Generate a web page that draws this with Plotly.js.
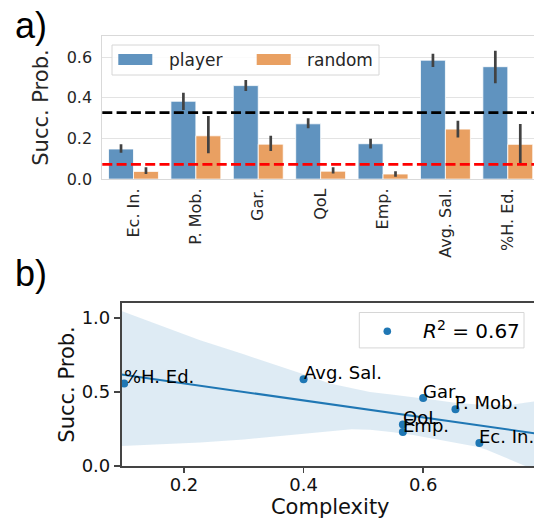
<!DOCTYPE html>
<html><head><meta charset="utf-8">
<script src="https://cdn.plot.ly/plotly-3.0.1.min.js"></script>
<style>html,body{margin:0;padding:0;overflow:hidden;background:#fff;}#chart{width:545px;height:520px;}</style>
</head><body><div id="chart"></div>
<script>
// ---- data ----
const categories = ['Ec. In.', 'P. Mob.', 'Gar.', 'QoL', 'Emp.', 'Avg. Sal.', '%H. Ed.'];
const playerMean = [0.148, 0.383, 0.460, 0.272, 0.174, 0.585, 0.553];
const playerLow  = [0.130, 0.340, 0.433, 0.250, 0.151, 0.552, 0.471];
const playerHigh = [0.171, 0.425, 0.488, 0.299, 0.199, 0.617, 0.632];
const randomMean = [0.038, 0.213, 0.172, 0.039, 0.025, 0.246, 0.171];
const randomLow  = [0.025, 0.127, 0.138, 0.028, 0.011, 0.205, 0.069];
const randomHigh = [0.058, 0.310, 0.213, 0.058, 0.039, 0.287, 0.271];
const baselineValues = [0.327, 0.072];          // black dashed, red dashed
const complexity  = [0.694, 0.654, 0.600, 0.566, 0.566, 0.400, 0.100];
const scatterSucc = [0.156, 0.384, 0.460, 0.281, 0.230, 0.587, 0.558];
const bandX     = [0.0955, 0.16, 0.227, 0.30, 0.355, 0.40, 0.444, 0.48, 0.511, 0.55, 0.583, 0.62, 0.65, 0.69, 0.706, 0.73, 0.751, 0.77, 0.80];
const bandUpper = [1.048, 0.95, 0.851, 0.755, 0.682, 0.62, 0.558, 0.525, 0.50, 0.482, 0.467, 0.447, 0.429, 0.415, 0.411, 0.412, 0.416, 0.428, 0.445];
const bandLower = [0.135, 0.147, 0.159, 0.18, 0.20, 0.218, 0.235, 0.248, 0.245, 0.228, 0.21, 0.185, 0.16, 0.13, 0.11, 0.07, 0.035, 0.0, -0.05];
const r2Value = 0.67;

// ---- geometry helpers (pixel -> paper) ----
const W = 545, H = 520, ML = 100, MR = 6, MT = 36, MB = 54.3;
const px = x => (x - ML) / (W - ML - MR);
const py = y => (H - MB - y) / (H - MT - MB);

const blue = '#6093bf', orange = '#e9a062', errCol = '#424242';
const FONT = 'DejaVu Sans, Verdana, sans-serif';

const diff = (a, b) => a.map((v, i) => v - b[i]);

const player = {
  type: 'bar', name: 'player', x: categories, y: playerMean, xaxis: 'x', yaxis: 'y',
  marker: {color: blue, line: {color: '#ffffff', width: 0.8}},
  error_y: {type: 'data', symmetric: false, array: diff(playerHigh, playerMean), arrayminus: diff(playerMean, playerLow), color: errCol, thickness: 2.7, width: 0},
  showlegend: false, hoverinfo: 'x+y'
};
const random = {
  type: 'bar', name: 'random', x: categories, y: randomMean, xaxis: 'x', yaxis: 'y',
  marker: {color: orange, line: {color: '#ffffff', width: 0.8}},
  error_y: {type: 'data', symmetric: false, array: diff(randomHigh, randomMean), arrayminus: diff(randomMean, randomLow), color: errCol, thickness: 2.7, width: 0},
  showlegend: false, hoverinfo: 'x+y'
};

// regression fit of the scatter points
const n = complexity.length;
const mx = complexity.reduce((a, b) => a + b, 0) / n;
const my = scatterSucc.reduce((a, b) => a + b, 0) / n;
let sxy = 0, sxx = 0;
for (let i = 0; i < n; i++) { sxy += (complexity[i] - mx) * (scatterSucc[i] - my); sxx += (complexity[i] - mx) ** 2; }
const slope = sxy / sxx, intercept = my - slope * mx;

const x2Range = [0.0955, 0.0955 + (539 - 121.5) / 598];
const y2Range = [0, 1.103];

const band = {
  type: 'scatter', mode: 'lines', x: bandX.concat(bandX.slice().reverse()),
  y: bandUpper.concat(bandLower.slice().reverse()), fill: 'toself',
  fillcolor: 'rgba(31,119,180,0.15)', line: {width: 0}, xaxis: 'x2', yaxis: 'y2',
  showlegend: false, hoverinfo: 'skip'
};
const fitX = [x2Range[0], 0.82];
const fit = {
  type: 'scatter', mode: 'lines', x: fitX, y: fitX.map(v => intercept + slope * v),
  line: {color: '#1f77b4', width: 2}, xaxis: 'x2', yaxis: 'y2', showlegend: false, hoverinfo: 'skip'
};
const pts = {
  type: 'scatter', mode: 'markers', name: 'R2', x: complexity, y: scatterSucc,
  marker: {color: '#1f77b4', size: 8}, xaxis: 'x2', yaxis: 'y2', showlegend: false,
  text: categories, hoverinfo: 'text+x+y'
};

const shapes = [];
const baseColors = ['#000000', '#ff0000'];
baselineValues.forEach((v, i) => shapes.push({
  type: 'line', xref: 'x domain', x0: 0, x1: 1, yref: 'y', y0: v, y1: v,
  line: {color: baseColors[i], width: 2.7, dash: '10px,4.3px'}
}));
// legend a)
shapes.push({type: 'rect', xref: 'paper', yref: 'paper', x0: px(112), x1: px(379), y0: py(75), y1: py(45),
  line: {color: '#d6d6d6', width: 1}, fillcolor: 'rgba(255,255,255,0.85)'});
shapes.push({type: 'rect', xref: 'paper', yref: 'paper', x0: px(118.3), x1: px(152.3), y0: py(65), y1: py(54),
  line: {width: 0}, fillcolor: blue});
shapes.push({type: 'rect', xref: 'paper', yref: 'paper', x0: px(256.7), x1: px(290.7), y0: py(65), y1: py(54),
  line: {width: 0}, fillcolor: orange});
// legend b)
shapes.push({type: 'rect', xref: 'paper', yref: 'paper', x0: px(359.3), x1: px(524), y0: py(347.7), y1: py(312.3),
  line: {color: '#d6d6d6', width: 1}, fillcolor: 'rgba(255,255,255,0.85)'});
shapes.push({type: 'circle', xref: 'paper', yref: 'paper', xsizemode: 'pixel', ysizemode: 'pixel',
  xanchor: px(387.3), yanchor: py(331), x0: -3.8, x1: 3.8, y0: -3.8, y1: 3.8,
  line: {width: 0}, fillcolor: '#1f77b4'});

const annotations = [];
annotations.push({xref: 'paper', yref: 'paper', x: px(167.3), y: py(60), xanchor: 'left', yanchor: 'middle',
  text: player.name, showarrow: false, font: {family: FONT, size: 17, color: '#262626'}});
annotations.push({xref: 'paper', yref: 'paper', x: px(305), y: py(60), xanchor: 'left', yanchor: 'middle',
  text: random.name, showarrow: false, font: {family: FONT, size: 17, color: '#262626'}});
annotations.push({xref: 'paper', yref: 'paper', x: px(421), y: py(330), xanchor: 'left', yanchor: 'middle',
  text: '<i>R</i><sup>2</sup> = ' + r2Value.toFixed(2), showarrow: false, font: {family: FONT, size: 20, color: '#000'}});
categories.forEach((c, i) => annotations.push({
  xref: 'x2', yref: 'y2', x: complexity[i], y: scatterSucc[i], xanchor: 'left', yanchor: 'bottom',
  text: c, showarrow: false, borderpad: 0, xshift: -1, yshift: -5,
  font: {family: FONT, size: 18, color: '#000'}
}));
annotations.push({xref: 'paper', yref: 'paper', x: px(13), y: py(3), xanchor: 'left', yanchor: 'top',
  text: 'a)', showarrow: false, font: {family: 'Liberation Sans, Arial, sans-serif', size: 36, color: '#000'}});
annotations.push({xref: 'paper', yref: 'paper', x: px(13), y: py(251), xanchor: 'left', yanchor: 'top',
  text: 'b)', showarrow: false, font: {family: 'Liberation Sans, Arial, sans-serif', size: 36, color: '#000'}});

const layout = {
  width: W, height: H, margin: {l: ML, r: MR, t: MT, b: MB, pad: 0},
  paper_bgcolor: '#fff', plot_bgcolor: 'rgba(0,0,0,0)',
  font: {family: FONT, color: '#262626'},
  barmode: 'group', bargap: 0.2, bargroupgap: 0,
  showlegend: false,
  xaxis: {domain: [px(102.3), 1], anchor: 'y', type: 'category', range: [-0.5, 6.5],
    showgrid: false, showline: true, mirror: true, linecolor: '#d9d9d9', linewidth: 1,
    ticks: '', tickangle: -90, tickfont: {size: 16, color: '#262626'}, ticklabelstandoff: 2, automargin: false, zeroline: false},
  yaxis: {domain: [py(179), 1], anchor: 'x', range: [0, 0.704], tickvals: [0, 0.2, 0.4, 0.6], tickformat: '.1f',
    showgrid: true, gridcolor: '#e3e3e3', gridwidth: 1, showline: true, mirror: true, linecolor: '#d9d9d9',
    ticks: '', tickfont: {size: 16, color: '#262626'}, ticklabelstandoff: 6, zeroline: false, automargin: false,
    title: {text: 'Succ. Prob.', font: {size: 21, color: '#262626'}, standoff: 12}},
  xaxis2: {domain: [px(121.5), 1], anchor: 'y2', range: x2Range, tickvals: [0.2, 0.4, 0.6], tickformat: '.1f',
    showgrid: false, showline: true, mirror: true, linecolor: '#444', linewidth: 1.6, zeroline: false,
    ticks: 'outside', ticklen: 5, tickwidth: 1.4, tickcolor: '#444', tickfont: {size: 18, color: '#111'},
    ticklabelstandoff: -3, automargin: false, title: {text: 'Complexity', font: {size: 21, color: '#111'}, standoff: 4}},
  yaxis2: {domain: [0, py(302.7)], anchor: 'x2', range: y2Range, tickvals: [0, 0.5, 1.0], tickformat: '.1f',
    showgrid: false, showline: true, mirror: true, linecolor: '#444', linewidth: 1.6, zeroline: false,
    ticks: 'outside', ticklen: 6, tickwidth: 1.4, tickcolor: '#444', tickfont: {size: 18, color: '#111'},
    automargin: false, title: {text: 'Succ. Prob.', font: {size: 21, color: '#111'}, standoff: 1}},
  shapes: shapes, annotations: annotations
};

Plotly.newPlot('chart', [player, random, band, fit, pts], layout, {displayModeBar: false, staticPlot: true});
</script>
</body></html>
